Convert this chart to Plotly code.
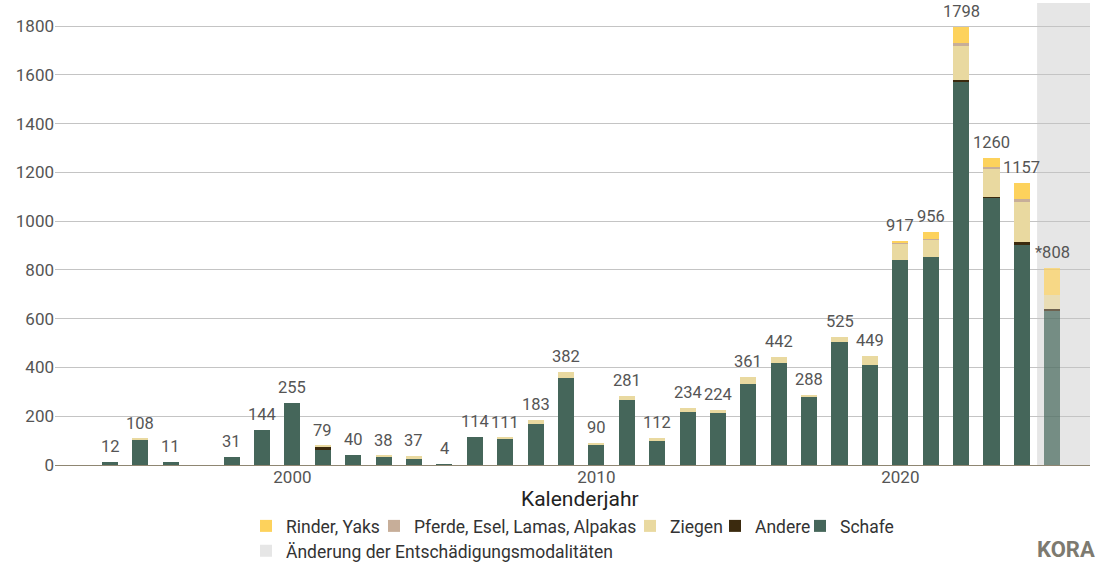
import plotly.graph_objects as go

# ---- data -------------------------------------------------------------
years = [1994, 1995, 1996, 1998, 1999, 2000, 2001, 2002, 2003, 2004, 2005,
         2006, 2007, 2008, 2009, 2010, 2011, 2012, 2013, 2014, 2015, 2016,
         2017, 2018, 2019, 2020, 2021, 2022, 2023, 2024, 2025]
schafe = [12, 105, 11, 31, 144, 255, 62, 40, 35, 26, 4,
          114, 108, 170, 357, 86, 266, 97, 219, 216, 332, 419,
          277, 505, 412, 840, 852, 1571, 1099, 906, 630]
andere = [0, 0, 0, 0, 0, 0, 12, 0, 0, 0, 0,
          0, 0, 0, 0, 0, 0, 0, 0, 0, 0, 0,
          0, 0, 0, 0, 0, 7, 2, 8, 11]
ziegen = [0, 3, 0, 0, 0, 0, 5, 0, 3, 11, 0,
          0, 3, 13, 25, 4, 15, 15, 15, 8, 29, 23,
          11, 20, 37, 70, 74, 141, 112, 166, 57]
pferde = [0, 0, 0, 0, 0, 0, 0, 0, 0, 0, 0,
          0, 0, 0, 0, 0, 0, 0, 0, 0, 0, 0,
          0, 0, 0, 2, 1, 11, 10, 10, 0]
rinder = [0, 0, 0, 0, 0, 0, 0, 0, 0, 0, 0,
          0, 0, 0, 0, 0, 0, 0, 0, 0, 0, 0,
          0, 0, 0, 5, 29, 68, 37, 67, 110]
provisional_years = [2025]
change_start_year = 2024.5

series_names = ["Schafe", "Andere", "Ziegen", "Pferde, Esel, Lamas, Alpakas", "Rinder, Yaks"]
series_values = [schafe, andere, ziegen, pferde, rinder]
series_colors = ["#45665a", "#3b2a0e", "#e9d9a0", "#c7ae99", "#fdd25c"]
change_label = "Änderung der Entschädigungsmodalitäten"
change_color = "#e6e6e6"

y_ticks = [0, 200, 400, 600, 800, 1000, 1200, 1400, 1600, 1800]
x_ticks = [2000, 2010, 2020]
x_title = "Kalenderjahr"

# legend entry placement (container fractions): one legend per entry
legend_ids = ["legend5", "legend4", "legend3", "legend2", "legend", "legend6"]
legend_x = [800 / 1109, 715 / 1109, 630 / 1109, 374 / 1109, 246 / 1109, 246 / 1109]
legend_y = [0.069, 0.069, 0.069, 0.069, 0.069, 0.025]

# ---- figure -----------------------------------------------------------
FONT = "Roboto"
fig = go.Figure()

opac = [0.7 if y in provisional_years else 1.0 for y in years]
for name, vals, col, lid in zip(series_names, series_values, series_colors, legend_ids):
    fig.add_trace(go.Bar(
        x=years, y=vals, name=name,
        marker=dict(color=col, opacity=opac, line=dict(width=0)),
        legend=lid,
    ))

fig.add_trace(go.Bar(
    x=[None], y=[None], name=change_label,
    marker=dict(color=change_color, line=dict(width=0)),
    legend=legend_ids[5],
))

totals = [sum(v) for v in zip(*series_values)]
labels = [("*" if y in provisional_years else "") + str(t) for y, t in zip(years, totals)]
for y, t, lab in zip(years, totals, labels):
    fig.add_annotation(x=y, y=t, text=lab, showarrow=False, yanchor="bottom",
                       yshift=4, font=dict(family=FONT, size=16.5, color="#555555"))

fig.add_shape(type="rect", xref="x", yref="paper", x0=change_start_year, x1=2030,
              y0=0, y1=1, fillcolor=change_color, line=dict(width=0), layer="below")

fig.add_annotation(xref="paper", yref="paper", x=0.507, y=-0.074, xanchor="center",
                   yanchor="middle", text=x_title, showarrow=False,
                   font=dict(family=FONT, size=21, color="#222222"))
fig.add_annotation(xref="paper", yref="paper", x=0.977, y=-0.183, xanchor="center",
                   yanchor="middle", text="<b>KORA</b>", showarrow=False,
                   font=dict(family=FONT, size=22, color="#7d7a70"))

legend_style = dict(orientation="h", xref="container", yref="container",
                    xanchor="left", yanchor="middle",
                    font=dict(family=FONT, size=17.5, color="#333333"),
                    itemwidth=30, bgcolor="rgba(0,0,0,0)")
legends = {lid: dict(legend_style, x=lx, y=ly)
           for lid, lx, ly in zip(legend_ids, legend_x, legend_y)}

fig.update_layout(
    width=1109, height=565,
    margin=dict(l=55, r=19, t=3, b=100, autoexpand=False),
    barmode="stack", bargap=0.47,
    paper_bgcolor="white", plot_bgcolor="white",
    font=dict(family=FONT, size=16, color="#555555"),
    showlegend=True,
    xaxis=dict(range=[1992.19, 2026.24], tickvals=x_ticks, showgrid=False,
               zeroline=False, showline=False, ticks="", automargin=False,
               tickfont=dict(family=FONT, size=17, color="#555555"), fixedrange=True),
    yaxis=dict(range=[0, 1895], tickvals=y_ticks, showgrid=True, gridcolor="#c4c4c4",
               gridwidth=1, zeroline=True, zerolinecolor="#8f8672", zerolinewidth=1,
               showline=False, ticks="", automargin=False,
               tickfont=dict(family=FONT, size=17, color="#555555")),
    **legends,
)

fig.write_html("out.html", config={"displayModeBar": False},
               post_script="document.body.style.margin='0';document.body.style.overflow='hidden';")
